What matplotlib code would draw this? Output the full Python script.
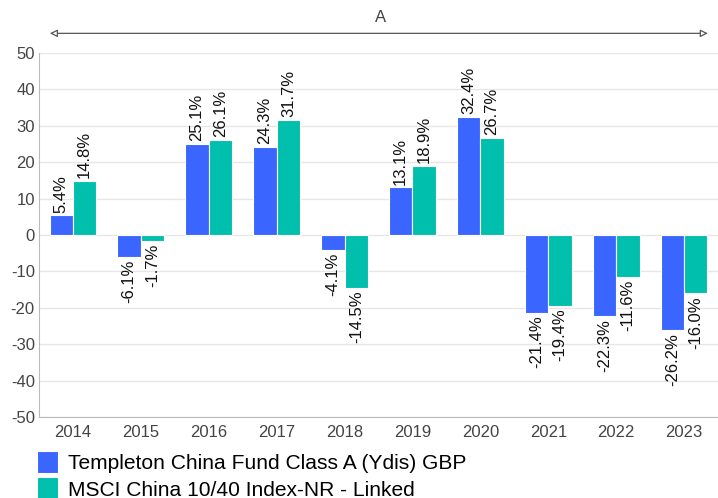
import matplotlib.pyplot as plt
import numpy as np

years = ['2014', '2015', '2016', '2017', '2018', '2019', '2020', '2021', '2022', '2023']
fund = [5.4, -6.1, 25.1, 24.3, -4.1, 13.1, 32.4, -21.4, -22.3, -26.2]
index = [14.8, -1.7, 26.1, 31.7, -14.5, 18.9, 26.7, -19.4, -11.6, -16.0]
names = ['Templeton China Fund Class A (Ydis) GBP', 'MSCI China 10/40 Index-NR - Linked']
colors = ['#3a66ff', '#00bfad']

plt.rcParams['font.family'] = ['Liberation Sans', 'DejaVu Sans']
plt.rcParams['axes.unicode_minus'] = False

fig = plt.figure(figsize=(7.18, 4.98), dpi=100)
ax = fig.add_axes([39 / 718, 1 - 417 / 498, 679 / 718, 364 / 498])

x = np.arange(len(years))
w = 0.345
for vals, off, c, name in [(fund, -w / 2, colors[0], names[0]), (index, w / 2, colors[1], names[1])]:
    bars = ax.bar(x + off, vals, w, color=c, edgecolor='white', linewidth=0.8, label=name, zorder=2)
    for b, v in zip(bars, vals):
        ax.annotate(f'{v:.1f}%', (b.get_x() + b.get_width() / 2, v),
                    xytext=(0, 2 if v >= 0 else -2), textcoords='offset points',
                    rotation=90, ha='center', va='bottom' if v >= 0 else 'top',
                    fontsize=12, color='#111111')

ax.set_xlim(-0.5, len(years) - 0.5)
ax.set_ylim(-50, 50)
ax.set_yticks(range(-50, 51, 10))
ax.set_xticks(x)
ax.set_xticklabels(years)
ax.tick_params(axis='both', length=0, labelsize=12, colors='#444444')
ax.tick_params(axis='x', pad=6)
ax.tick_params(axis='y', pad=3)
ax.grid(axis='y', color='#e6e6e6', linewidth=1, zorder=0)
for s in ['top', 'right']:
    ax.spines[s].set_visible(False)
for s in ['left', 'bottom']:
    ax.spines[s].set_color('#bbbbbb')

# period arrow across the top
ax.annotate('', xy=(0.985, 1.054), xytext=(0.016, 1.054), xycoords='axes fraction',
            arrowprops=dict(arrowstyle='<|-|>', color='#555555', lw=0.9,
                            shrinkA=0, shrinkB=0, fc='white', mutation_scale=11),
            annotation_clip=False)
ax.text(0.503, 1.078, 'A', transform=ax.transAxes, ha='center', va='bottom',
        fontsize=12, color='#444444')

leg = fig.legend(loc='lower left', bbox_to_anchor=(29 / 718, -0.02), frameon=False,
                 fontsize=15.1, handlelength=1.0, handleheight=1.25, handletextpad=0.45,
                 labelspacing=0.2, borderaxespad=0)

fig.savefig('out.png', dpi=100)
